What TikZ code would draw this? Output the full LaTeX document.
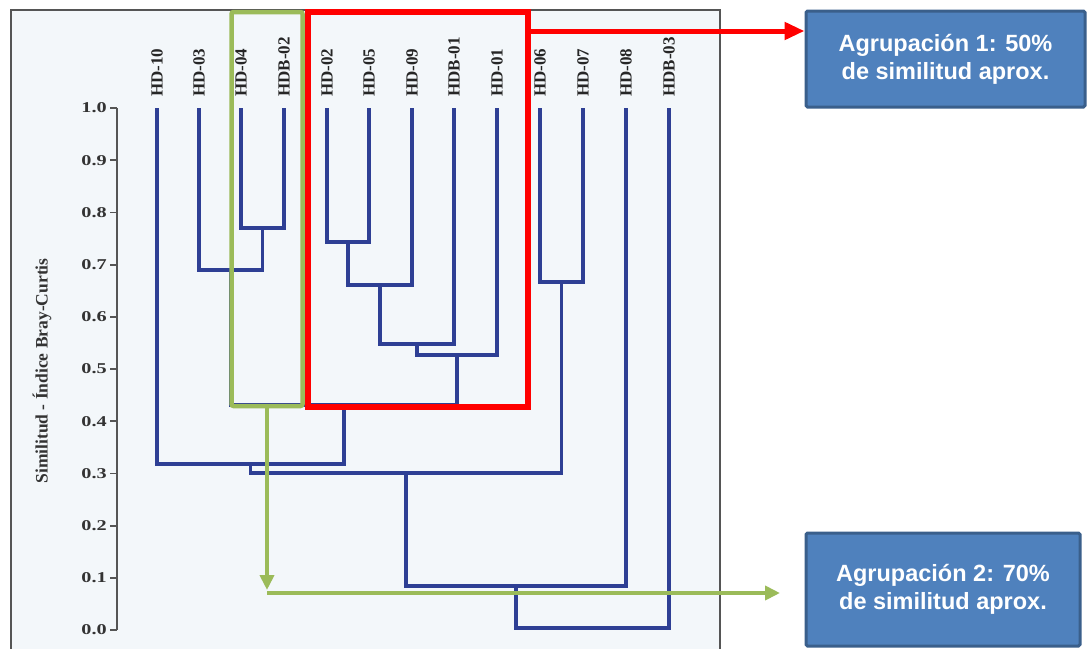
\documentclass[tikz,border=0pt]{standalone}
\usepackage{fontspec}
\setmainfont{Liberation Serif}
\newfontfamily\boxfont{Liberation Sans}
\usetikzlibrary{arrows.meta}
\definecolor{dendblue}{HTML}{2E3F94}
\definecolor{framegray}{HTML}{555555}
\definecolor{plotbg}{HTML}{F3F7FA}
\definecolor{grp}{HTML}{9BBB59}
\definecolor{boxfill}{HTML}{4F81BD}
\definecolor{boxedge}{HTML}{3A5F8B}
\begin{document}
\begin{tikzpicture}[x=1pt,y=-1pt,
  dend/.style={draw=dendblue, line width=3.2pt},
  leaflabel/.style={rotate=90, anchor=west, inner sep=0pt, text=black!85,
    font=\bfseries\fontsize{17}{17}\selectfont},
  ticklabel/.style={anchor=east, inner sep=0pt, text=black!80, xscale=1.35,
    font=\bfseries\fontsize{15}{15}\selectfont},
  axislabel/.style={rotate=90, inner sep=0pt, text=black!80,
    font=\bfseries\fontsize{17.5}{17.5}\selectfont},
  axisline/.style={draw=framegray, line width=1.8pt},
  infobox/.style={draw=boxedge, fill=boxfill, line width=3pt, rounded corners=1.5pt,
    text=white, align=center, inner sep=0pt,
    font=\boxfont\bfseries\fontsize{23.5}{28}\selectfont},
  grouparrowgreen/.style={draw=grp, line width=4pt, -{Triangle[length=15pt,width=14pt]}},
  grouparrowred/.style={draw=red, line width=5pt, -{Triangle[length=20pt,width=17pt]}},
]
\useasboundingbox (0,0) rectangle (1087,648);
\fill[white] (0,0) rectangle (1087,648);
% plot frame
\fill[plotbg] (11,10) rectangle (720,660);
\draw[axisline] (11,660) -- (11,10) -- (720,10) -- (720,660);

% y axis
\draw[axisline] (117,108) -- (117,630);
\foreach \v/\lab in {0/0.0,1/0.1,2/0.2,3/0.3,4/0.4,5/0.5,6/0.6,7/0.7,8/0.8,9/0.9,10/1.0}{
  \pgfmathsetmacro{\yy}{630-52.2*\v}
  \draw[axisline] (110,\yy) -- (117,\yy);
  \node[ticklabel] at (107,\yy) {\lab};
}
\node[axislabel] (ylab) at (42,371) {Similitud - Índice Bray-Curtis};

% leaves
\coordinate (L1) at (157,108);
\coordinate (L2) at (199,108);
\coordinate (L3) at (241,108);
\coordinate (L4) at (284,108);
\coordinate (L5) at (327,108);
\coordinate (L6) at (369,108);
\coordinate (L7) at (412,108);
\coordinate (L8) at (454,108);
\coordinate (L9) at (497,108);
\coordinate (L10) at (540,108);
\coordinate (L11) at (583,108);
\coordinate (L12) at (626,108);
\coordinate (L13) at (669,108);

\node[leaflabel] (t1) at (157,97) {HD-10};
\node[leaflabel] (t2) at (199,97) {HD-03};
\node[leaflabel] (t3) at (241,97) {HD-04};
\node[leaflabel] (t4) at (284,97) {HDB-02};
\node[leaflabel] (t5) at (327,97) {HD-02};
\node[leaflabel] (t6) at (369,97) {HD-05};
\node[leaflabel] (t7) at (412,97) {HD-09};
\node[leaflabel] (t8) at (454,97) {HDB-01};
\node[leaflabel] (t9) at (497,97) {HD-01};
\node[leaflabel] (t10) at (540,97) {HD-06};
\node[leaflabel] (t11) at (583,97) {HD-07};
\node[leaflabel] (t12) at (626,97) {HD-08};
\node[leaflabel] (t13) at (669,97) {HDB-03};

% merges
\coordinate (m1) at (262.5,228);
\coordinate (m2) at (230.75,270);
\coordinate (m3) at (348,242);
\coordinate (m4) at (380,285);
\coordinate (m5) at (417,344);
\coordinate (m6) at (457,355);
\coordinate (m7) at (343.9,405);
\coordinate (m8) at (250.4,464);
\coordinate (m9) at (561.5,282);
\coordinate (m10) at (406,473);
\coordinate (m11) at (516,586);
\coordinate (m12) at (592.5,628);

\draw[dend] (L3) |- (m1) -| (L4);
\draw[dend] (L2) |- (m2) -| (m1);
\draw[dend] (L5) |- (m3) -| (L6);
\draw[dend] (m3) |- (m4) -| (L7);
\draw[dend] (m4) |- (m5) -| (L8);
\draw[dend] (m5) |- (m6) -| (L9);
\draw[dend] (m2) |- (m7) -| (m6);
\draw[dend] (L1) |- (m8) -| (m7);
\draw[dend] (L10) |- (m9) -| (L11);
\draw[dend] (m8) |- (m10) -| (m9);
\draw[dend] (m10) |- (m11) -| (L12);
\draw[dend] (m11) |- (m12) -| (L13);

% group boxes
\node[draw=grp, line width=4.5pt, rounded corners=2pt, minimum width=71pt,
  minimum height=394pt, inner sep=0pt] (grpB) at (267,209) {};
\node[draw=red, line width=5.5pt, minimum width=220pt,
  minimum height=395pt, inner sep=0pt] (grpA) at (418,209.5) {};

% info boxes
\node[infobox, minimum width=279pt, minimum height=96pt] (info1) at (945.5,59)
  {Agrupación 1: 50\%\\de similitud aprox.};
\node[infobox, minimum width=274pt, minimum height=113pt] (info2) at (943,589.5)
  {Agrupación 2: 70\%\\de similitud aprox.};

% arrows
\coordinate (ry) at (0,31);
\draw[grouparrowred] (grpA.east |- ry) -- (info1.west |- ry);
\coordinate (gtip) at (267,590);
\draw[grouparrowgreen] (grpB.south) -- (gtip);
\coordinate (gstart) at (267,593);
\coordinate (gend) at (780,593);
\draw[grouparrowgreen] (gstart) -- (gend);
\end{tikzpicture}
\end{document}
